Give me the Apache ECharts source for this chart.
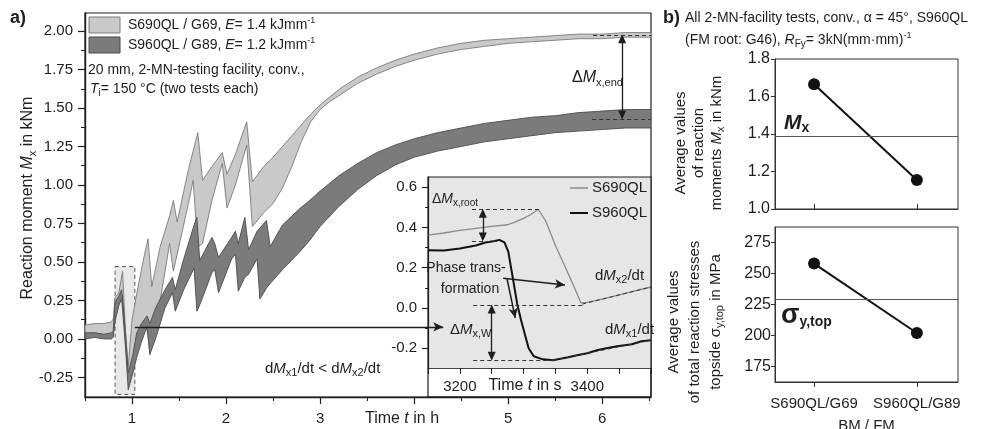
<!DOCTYPE html>
<html>
<head>
<meta charset="utf-8">
<title>Reaction moment Mx</title>
<script src="https://cdn.jsdelivr.net/npm/echarts@6/dist/echarts.min.js"></script>
<style>
  html, body { margin: 0; padding: 0; background: #fff; }
  #chart { width: 1003px; height: 429px; }
</style>
</head>
<body>
<div id="chart"></div>
<script>
// a) Reaktionsmoment ueber der Zeit, Band = zwei Versuche je Werkstoff
const hoursS690 = [0.50, 0.60, 0.70, 0.78, 0.80, 0.82, 0.86, 0.90, 0.93, 0.96, 1.00, 1.04, 1.10, 1.14, 1.17, 1.19, 1.21, 1.30, 1.40, 1.44, 1.48, 1.60, 1.65, 1.70, 1.75, 1.85, 1.96, 2.01, 2.10, 2.22, 2.28, 2.40, 2.50, 2.60, 2.70, 2.80, 2.90, 3.00, 3.10, 3.20, 3.40, 3.60, 3.80, 4.00, 4.25, 4.50, 4.75, 5.00, 5.25, 5.50, 5.75, 6.00, 6.25, 6.52]
const s690Upper = [0.09, 0.10, 0.10, 0.11, 0.13, 0.27, 0.30, 0.44, 0.05, -0.18, 0.12, 0.26, 0.45, 0.57, 0.65, 0.50, 0.34, 0.60, 0.80, 0.90, 0.76, 1.10, 1.22, 1.34, 1.03, 1.12, 1.21, 1.07, 1.20, 1.41, 1.02, 1.12, 1.18, 1.25, 1.32, 1.39, 1.46, 1.52, 1.57, 1.62, 1.70, 1.76, 1.81, 1.85, 1.89, 1.92, 1.94, 1.95, 1.96, 1.97, 1.98, 1.98, 1.99, 1.99]
const s690Lower = [0.03, 0.04, 0.03, 0.03, 0.03, 0.12, 0.22, 0.28, 0.00, -0.24, -0.16, -0.04, 0.06, 0.12, 0.02, -0.10, -0.04, 0.25, 0.62, 0.44, 0.55, 0.88, 1.03, 0.60, 0.62, 0.90, 1.14, 0.85, 1.00, 1.26, 0.73, 0.82, 0.88, 0.98, 1.12, 1.28, 1.41, 1.49, 1.54, 1.58, 1.66, 1.72, 1.77, 1.81, 1.85, 1.88, 1.90, 1.92, 1.93, 1.94, 1.95, 1.95, 1.96, 1.96]

const hoursS960 = [0.50, 0.60, 0.70, 0.78, 0.80, 0.82, 0.86, 0.89, 0.93, 0.96, 1.01, 1.05, 1.10, 1.16, 1.19, 1.25, 1.35, 1.43, 1.46, 1.55, 1.66, 1.69, 1.72, 1.85, 1.88, 1.92, 2.06, 2.10, 2.13, 2.20, 2.24, 2.33, 2.36, 2.43, 2.47, 2.60, 2.79, 2.89, 3.00, 3.20, 3.40, 3.60, 3.80, 4.00, 4.25, 4.50, 4.75, 5.00, 5.25, 5.50, 5.75, 6.00, 6.25, 6.52]
const s960Upper = [0.04, 0.04, 0.03, 0.04, 0.05, 0.24, 0.28, 0.32, 0.05, -0.22, -0.10, 0.04, 0.10, 0.15, 0.10, 0.20, 0.32, 0.40, 0.32, 0.52, 0.74, 0.79, 0.51, 0.66, 0.62, 0.53, 0.66, 0.70, 0.62, 0.79, 0.58, 0.70, 0.72, 0.77, 0.60, 0.74, 0.85, 0.90, 0.96, 1.06, 1.14, 1.21, 1.26, 1.30, 1.34, 1.37, 1.40, 1.42, 1.44, 1.45, 1.47, 1.48, 1.49, 1.49]
const s960Lower = [0.00, 0.01, 0.00, 0.00, 0.01, 0.12, 0.22, 0.26, -0.05, -0.33, -0.22, -0.12, -0.02, 0.08, -0.10, 0.00, 0.20, 0.30, 0.18, 0.32, 0.46, 0.18, 0.22, 0.43, 0.45, 0.30, 0.52, 0.55, 0.31, 0.40, 0.42, 0.52, 0.26, 0.33, 0.36, 0.45, 0.57, 0.64, 0.73, 0.86, 0.97, 1.06, 1.13, 1.18, 1.22, 1.25, 1.28, 1.30, 1.32, 1.34, 1.35, 1.36, 1.37, 1.37]

// Ausschnitt (Inset), Zeit in s
const insetSecS690 = [3150, 3175, 3200, 3225, 3250, 3275, 3285, 3300, 3312, 3323, 3335, 3350, 3365, 3380, 3390, 3400, 3425, 3450, 3475, 3500]
const insetS690 = [0.362, 0.372, 0.385, 0.395, 0.405, 0.413, 0.425, 0.445, 0.465, 0.49, 0.43, 0.31, 0.206, 0.10, 0.025, 0.028, 0.045, 0.065, 0.085, 0.104]
const insetSecS960 = [3150, 3175, 3200, 3225, 3240, 3255, 3262, 3270, 3276, 3282, 3290, 3296, 3302, 3308, 3316, 3330, 3346, 3370, 3384, 3400, 3415, 3430, 3447, 3470, 3485, 3500]
const insetS960 = [0.287, 0.285, 0.295, 0.31, 0.325, 0.332, 0.338, 0.325, 0.28, 0.17, 0.02, -0.06, -0.13, -0.20, -0.24, -0.255, -0.26, -0.245, -0.235, -0.225, -0.21, -0.20, -0.19, -0.18, -0.165, -0.16]

// b) Mittelwerte
const bmfmCategories = ['S690QL/G69', 'S960QL/G89']
const avgMoment = [1.665, 1.155]
const avgMomentRef = 1.39
const avgStress = [258, 202]
const avgStressRef = 229.5

// Achsenteilung
const mainXTicks = [1, 2, 3, 4, 5, 6]
const mainXLabels = [1, 2, 3, 5, 6]
const mainXMinor = [0.5, 1.5, 2.5, 3.5, 4.5, 5.5, 6.5]
const mainYTicks = [-0.25, 0, 0.25, 0.5, 0.75, 1, 1.25, 1.5, 1.75, 2]
const mainYMinor = [-0.125, 0.125, 0.375, 0.625, 0.875, 1.125, 1.375, 1.625, 1.875]
const insetXTicks = [3150, 3200, 3250, 3300, 3350, 3400, 3450, 3500]
const insetXLabels = [3200, 3400]
const insetYTicks = [-0.2, 0, 0.2, 0.4, 0.6]
const insetYMinor = [-0.1, 0.1, 0.3, 0.5]
const momentTicks = [1.0, 1.2, 1.4, 1.6, 1.8]
const stressTicks = [175, 200, 225, 250, 275]

const INK = '#1e1e1e'
const F = '"Liberation Sans", Arial, Helvetica, sans-serif'

const pts = (xs, ys) => xs.map((x, i) => [x, ys[i]])

function richSet(size) {
  const sub = Math.round(size * 0.7)
  const off = Math.round(size * 0.55)
  return {
    i: { fontFamily: F, fontSize: size, fontStyle: 'italic', fill: INK },
    s: { fontFamily: F, fontSize: sub, lineHeight: sub, fill: INK, padding: [off, 0, 0, 0] },
    u: { fontFamily: F, fontSize: sub - 1, lineHeight: sub, fill: INK, padding: [0, 0, off, 0] },
    b: { fontFamily: F, fontSize: 21, fontStyle: 'italic', fontWeight: 'bold', fill: INK },
    bs: { fontFamily: F, fontSize: 14, lineHeight: 14, fontWeight: 'bold', fill: INK, padding: [11, 0, 0, 0] },
    g: { fontFamily: F, fontSize: 27, fontWeight: 'bold', fill: INK },
    gs: { fontFamily: F, fontSize: 14, lineHeight: 14, fontWeight: 'bold', fill: INK, padding: [12, 0, 0, 0] }
  }
}

function label(x, y, text, size, style, el) {
  return Object.assign({
    type: 'text', x: x, y: y, z: 50, silent: true,
    style: Object.assign({
      text: text, fontFamily: F, fontSize: size, fill: INK,
      align: 'left', verticalAlign: 'middle', rich: richSet(size)
    }, style || {})
  }, el || {})
}

// Band zwischen zwei Versuchskurven als ein Polygon
function bandSeries(name, hours, lower, upper, fill, edge, z, extra) {
  return Object.assign({
    name: name,
    type: 'custom',
    xAxisIndex: 0,
    yAxisIndex: 0,
    z: z,
    clip: true,
    data: hours.map((t, i) => [t, lower[i], upper[i]]),
    encode: { x: 0, y: [1, 2] },
    renderItem: (params, api) => {
      if (params.dataIndex !== 0) return null
      const top = hours.map((t, i) => api.coord([t, upper[i]]))
      const bottom = hours.map((t, i) => api.coord([t, lower[i]])).reverse()
      return {
        type: 'polygon',
        shape: { points: top.concat(bottom) },
        style: { fill: fill, stroke: edge, lineWidth: 0.9 }
      }
    }
  }, extra || {})
}

const dashed = { color: '#333', width: 1, type: [4, 3] }
const solid = { color: INK, width: 1.3, type: 'solid' }
const tri = { symbol: 'triangle', symbolSize: [8, 9] }
const arr = { symbol: 'arrow', symbolSize: [7, 10] }

function valueAxis(extra) {
  return Object.assign({
    type: 'value',
    scale: true,
    splitLine: { show: false },
    axisLine: { show: true, onZero: false, lineStyle: { color: INK, width: 1.4 } },
    axisTick: { show: true, lineStyle: { color: INK, width: 1.2 } },
    axisLabel: { color: INK, fontFamily: F, fontSize: 15 }
  }, extra)
}

function minorAxis(extra) {
  return Object.assign({
    type: 'value',
    splitLine: { show: false },
    axisLine: { show: false, onZero: false },
    axisLabel: { show: false }
  }, extra)
}

const gridBase = { show: true, containLabel: false, outerBoundsMode: 'none' }

const chart = echarts.init(document.getElementById('chart'))

const option = {
  animation: false,
  backgroundColor: '#fff',
  textStyle: { fontFamily: F, color: INK },
  grid: [
    Object.assign({ left: 85, top: 13, width: 566, height: 384, borderColor: INK, borderWidth: 1.2, backgroundColor: 'transparent' }, gridBase),
    Object.assign({ left: 428, top: 177, width: 223, height: 191, borderWidth: 0, backgroundColor: '#e6e6e6' }, gridBase),
    Object.assign({ left: 775, top: 59, width: 183, height: 150, borderColor: '#333', borderWidth: 1 }, gridBase),
    Object.assign({ left: 775, top: 227, width: 183, height: 155, borderColor: '#333', borderWidth: 1 }, gridBase)
  ],
  xAxis: [
    valueAxis({
      gridIndex: 0, min: 0.5, max: 6.52,
      axisTick: { length: 7, customValues: mainXTicks, lineStyle: { color: INK, width: 1.2 } },
      axisLabel: { customValues: mainXLabels, margin: 14, fontSize: 15, color: INK }
    }),
    minorAxis({ gridIndex: 0, min: 0.5, max: 6.52, position: 'bottom', axisTick: { length: 4, customValues: mainXMinor, lineStyle: { color: INK, width: 1 } } }),
    valueAxis({
      gridIndex: 1, min: 3150, max: 3500,
      axisLine: { show: true, onZero: false, lineStyle: { color: '#444', width: 1 } },
      axisTick: { length: 6, customValues: insetXTicks, lineStyle: { color: INK, width: 1 } },
      axisLabel: { customValues: insetXLabels, margin: 11, fontSize: 15, color: INK, formatter: v => String(v) }
    }),
    valueAxis({
      gridIndex: 2, min: -0.38, max: 1.4,
      axisLine: { show: true, onZero: false, lineStyle: { color: '#333', width: 1 } },
      axisTick: { inside: true, length: 5, customValues: [0, 1], lineStyle: { color: '#333', width: 1 } },
      axisLabel: { show: false }
    }),
    valueAxis({
      gridIndex: 3, min: -0.38, max: 1.4,
      axisLine: { show: true, onZero: false, lineStyle: { color: '#333', width: 1 } },
      axisTick: { length: 5, customValues: [0, 1], lineStyle: { color: '#333', width: 1 } },
      axisLabel: { customValues: [0, 1], margin: 14, fontSize: 15, color: INK, formatter: v => bmfmCategories[Math.round(v)] },
      name: 'BM / FM', nameLocation: 'middle', nameGap: 36,
      nameTextStyle: { fontSize: 15, color: INK, fontFamily: F }
    })
  ],
  yAxis: [
    valueAxis({
      gridIndex: 0, min: -0.377, max: 2.117,
      axisTick: { length: 7, customValues: mainYTicks, lineStyle: { color: INK, width: 1.2 } },
      axisLabel: { customValues: mainYTicks, margin: 12, fontSize: 15, color: INK, formatter: v => v.toFixed(2) }
    }),
    minorAxis({ gridIndex: 0, min: -0.377, max: 2.117, position: 'left', axisTick: { length: 4, customValues: mainYMinor, lineStyle: { color: INK, width: 1 } } }),
    valueAxis({
      gridIndex: 1, min: -0.298, max: 0.65,
      axisLine: { show: true, onZero: false, lineStyle: { color: INK, width: 1.2 } },
      axisTick: { length: 6, customValues: insetYTicks, lineStyle: { color: INK, width: 1.1 } },
      axisLabel: { customValues: insetYTicks, margin: 11, fontSize: 15, color: INK, formatter: v => v.toFixed(1) }
    }),
    minorAxis({ gridIndex: 1, min: -0.298, max: 0.65, position: 'left', axisTick: { length: 3, customValues: insetYMinor, lineStyle: { color: INK, width: 1 } } }),
    valueAxis({
      gridIndex: 2, min: 1.0, max: 1.8,
      axisLine: { show: true, onZero: false, lineStyle: { color: '#333', width: 1 } },
      axisTick: { length: 4, customValues: momentTicks, lineStyle: { color: '#333', width: 1 } },
      axisLabel: { customValues: momentTicks, margin: 5, fontSize: 16, color: INK, formatter: v => v.toFixed(1) }
    }),
    valueAxis({
      gridIndex: 3, min: 162.5, max: 287.5,
      axisLine: { show: true, onZero: false, lineStyle: { color: '#333', width: 1 } },
      axisTick: { length: 4, customValues: stressTicks, lineStyle: { color: '#333', width: 1 } },
      axisLabel: { customValues: stressTicks, margin: 4, fontSize: 16, color: INK }
    })
  ],
  series: [
    bandSeries('S690QL', hoursS690, s690Lower, s690Upper, '#c9c9c9', '#7a7a7a', 2, {
      markArea: {
        silent: true, z: 1,
        itemStyle: { color: '#e8e8e8', borderColor: '#555', borderWidth: 1, borderType: [4, 3] },
        data: [[{ coord: [0.82, 0.47] }, { coord: [1.03, -0.36] }]]
      }
    }),
    bandSeries('S960QL', hoursS960, s960Lower, s960Upper, '#7b7b7b', '#4d4d4d', 3, {
      markLine: {
        silent: true, symbol: 'none', label: { show: false }, lineStyle: solid,
        data: [
          [{ coord: [1.03, 0.078] }, Object.assign({ coord: [4.31, 0.078] }, arr)],
          [Object.assign({ coord: [6.213, 1.95] }, tri), Object.assign({ coord: [6.213, 1.455] }, tri)],
          [{ coord: [5.904, 1.974], lineStyle: dashed }, { coord: [6.52, 1.974] }],
          [{ coord: [5.894, 1.429], lineStyle: dashed }, { coord: [6.52, 1.429] }]
        ]
      }
    }),
    // Inset
    {
      name: 'S690QL inset', type: 'line', xAxisIndex: 2, yAxisIndex: 2, z: 3,
      data: pts(insetSecS690, insetS690), symbol: 'none',
      lineStyle: { color: '#8a8a8a', width: 1.3 }
    },
    {
      name: 'S960QL inset', type: 'line', xAxisIndex: 2, yAxisIndex: 2, z: 4,
      data: pts(insetSecS960, insetS960), symbol: 'none',
      lineStyle: { color: '#111', width: 2 },
      markLine: {
        silent: true, symbol: 'none', label: { show: false }, lineStyle: dashed,
        data: [
          [{ coord: [3219, 0.49] }, { coord: [3326, 0.49] }],
          [{ coord: [3219, 0.332] }, { coord: [3263, 0.332] }],
          [{ coord: [3221, 0.015] }, { coord: [3392, 0.015] }],
          [{ coord: [3221, -0.26] }, { coord: [3346, -0.26] }],
          [{ coord: [3392, 0.019] }, { coord: [3500, 0.104] }],
          [{ coord: [3346, -0.26] }, { coord: [3500, -0.16] }],
          [Object.assign({ coord: [3236, 0.47], lineStyle: solid }, tri), Object.assign({ coord: [3236, 0.352] }, tri)],
          [Object.assign({ coord: [3250, -0.005], lineStyle: solid }, tri), Object.assign({ coord: [3250, -0.24] }, tri)],
          [{ coord: [3268, 0.148], lineStyle: { color: INK, width: 1.5, type: 'solid' } }, Object.assign({ coord: [3365, 0.114] }, arr)],
          [{ coord: [3274, 0.145], lineStyle: { color: INK, width: 1.5, type: 'solid' } }, Object.assign({ coord: [3287, -0.05] }, arr)]
        ]
      }
    },
    // b) Mittelwerte
    {
      name: 'Mx', type: 'line', xAxisIndex: 3, yAxisIndex: 4, z: 4,
      data: pts([0, 1], avgMoment), symbol: 'circle', symbolSize: 12,
      itemStyle: { color: '#111' }, lineStyle: { color: '#111', width: 2 },
      markLine: {
        silent: true, symbol: 'none', label: { show: false },
        lineStyle: { color: '#555', width: 1, type: 'solid' },
        data: [{ yAxis: avgMomentRef }]
      }
    },
    {
      name: 'sigma', type: 'line', xAxisIndex: 4, yAxisIndex: 5, z: 4,
      data: pts([0, 1], avgStress), symbol: 'circle', symbolSize: 12,
      itemStyle: { color: '#111' }, lineStyle: { color: '#111', width: 2 },
      markLine: {
        silent: true, symbol: 'none', label: { show: false },
        lineStyle: { color: '#555', width: 1, type: 'solid' },
        data: [{ yAxis: avgStressRef }]
      }
    }
  ],
  graphic: [
    // Rahmen des Insets bis zur Zeitachse
    { type: 'rect', z: 40, silent: true, shape: { x: 428, y: 177, width: 223, height: 220 }, style: { fill: 'none', stroke: INK, lineWidth: 1.2 } },
    // Legende a)
    { type: 'rect', z: 40, silent: true, shape: { x: 89, y: 17, width: 31, height: 16 }, style: { fill: '#c9c9c9', stroke: '#7a7a7a', lineWidth: 1 } },
    { type: 'rect', z: 40, silent: true, shape: { x: 89, y: 37, width: 31, height: 16 }, style: { fill: '#7b7b7b', stroke: '#4d4d4d', lineWidth: 1 } },
    label(10, 18, 'a)', 18, { fontWeight: 'bold' }),
    label(128, 25, 'S690QL / G69, {i|E}= 1.4 kJmm{u|-1}', 14),
    label(128, 45, 'S960QL / G89, {i|E}= 1.2 kJmm{u|-1}', 14),
    label(88, 70, '20 mm, 2-MN-testing facility, conv.,', 14),
    label(90, 89, '{i|T}{s|i}= 150 °C (two tests each)', 14),
    label(28, 198, 'Reaction moment {i|M}{s|x} in kNm', 16, { align: 'center' }, { rotation: Math.PI / 2 }),
    label(402, 419, 'Time {i|t} in h', 16, { align: 'center' }),
    label(265, 369, 'd{i|M}{s|x1}/dt < d{i|M}{s|x2}/dt', 15),
    label(572, 78, 'Δ{i|M}{s|x,end}', 16),
    // Inset Beschriftung
    { type: 'line', z: 40, silent: true, shape: { x1: 570, y1: 188, x2: 588, y2: 188 }, style: { stroke: '#8a8a8a', lineWidth: 1.5 } },
    { type: 'line', z: 40, silent: true, shape: { x1: 570, y1: 213, x2: 588, y2: 213 }, style: { stroke: '#111', lineWidth: 2 } },
    label(592, 188, 'S690QL', 15),
    label(592, 213, 'S960QL', 15),
    label(432, 199, 'Δ{i|M}{s|x,root}', 14),
    label(466, 268, 'Phase trans-', 14, { align: 'center' }),
    label(470, 289, 'formation', 14, { align: 'center' }),
    label(595, 276, 'd{i|M}{s|x2}/dt', 15),
    label(605, 330, 'd{i|M}{s|x1}/dt', 15),
    label(450, 330, 'Δ{i|M}{s|x,W}', 15),
    label(525, 386, 'Time {i|t} in s', 16, { align: 'center' }),
    // b)
    label(663, 18, 'b)', 18, { fontWeight: 'bold' }),
    label(685, 18, 'All 2-MN-facility tests, conv., α = 45°, S960QL', 14),
    label(685, 40, '(FM root: G46), {i|R}{s|Fy}= 3kN(mm·mm){u|-1}', 14),
    label(699, 143, 'Average values\nof reaction\nmoments {i|M}{s|x} in kNm', 15, { align: 'center', lineHeight: 18 }, { rotation: Math.PI / 2 }),
    label(695, 322, 'Average values\nof total reaction stresses\ntopside σ{s|y,top} in MPa', 15, { align: 'center', lineHeight: 21 }, { rotation: Math.PI / 2 }),
    label(784, 123, '{b|M}{bs|x}', 20),
    label(781, 316, '{g|σ}{gs|y,top}', 26)
  ]
}

chart.setOption(option)
</script>
</body>
</html>
